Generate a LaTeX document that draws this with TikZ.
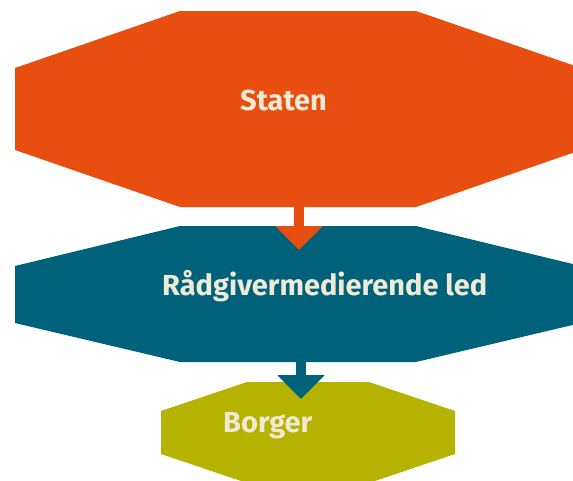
\documentclass[tikz,border=0pt]{standalone}
\usepackage{fontspec}
\setmainfont{Fira Sans}
\usetikzlibrary{arrows.meta}
\definecolor{orng}{HTML}{E84E0F}
\definecolor{tealc}{HTML}{00627A}
\definecolor{olivec}{HTML}{B5B200}
\definecolor{cream}{HTML}{EFEAD6}
\begin{document}
\begin{tikzpicture}[x=1pt,y=-1pt,
  lbl/.style={font=\bfseries\fontsize{29}{32}\selectfont, text=cream, inner sep=0pt, anchor=base west},
  flow/.style={line width=10pt, -{Triangle[width=46pt,length=24pt]}}]
\useasboundingbox (0,0) rectangle (573,480);
\clip (0,0) rectangle (573,480);
% shapes
\fill[orng] (180,11) -- (416,11) -- (581,68) -- (581,150) -- (416,207) -- (180,207) -- (15,150) -- (15,68) -- cycle;
\fill[tealc] (180,226) -- (416,226) -- (581,266) -- (581,323) -- (416,362) -- (180,362) -- (15,323) -- (15,266) -- cycle;
\fill[olivec] (247,382) -- (369,382) -- (455,411) -- (455,454) -- (369,483) -- (247,483) -- (161,454) -- (161,411) -- cycle;
% labels
\node[lbl] (staten) at (240,110) {Staten};
\node[lbl] (raad) at (162,295) {Rådgivermedierende led};
\node[lbl] (borger) at (223,432) {Borger};
% connectors
\coordinate (s-out) at (299,207);
\coordinate (r-in) at (299,250);
\coordinate (r-out) at (301,362);
\coordinate (b-in) at (301,399);
\draw[flow, orng] (s-out) -- (r-in);
\draw[flow, tealc] (r-out) -- (b-in);
\end{tikzpicture}
\end{document}
